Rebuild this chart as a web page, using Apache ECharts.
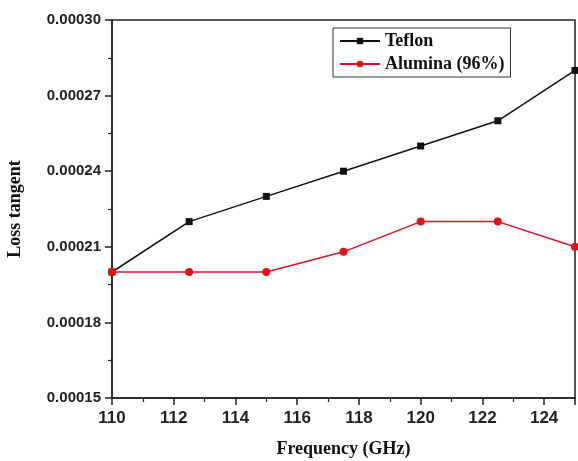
<!DOCTYPE html>
<html>
<head>
<meta charset="utf-8">
<script src="https://cdn.jsdelivr.net/npm/echarts@6/dist/echarts.min.js"></script>
<style>
    html, body { margin: 0; padding: 0; background: #fff; }
    #chart { width: 578px; height: 461px; }
</style>
</head>
<body>
<div id="chart"></div>
<script>
var frequency = [110, 112.5, 115, 117.5, 120, 122.5, 125];
var teflon = [0.00020, 0.00022, 0.00023, 0.00024, 0.00025, 0.00026, 0.00028];
var alumina = [0.00020, 0.00020, 0.00020, 0.000208, 0.00022, 0.00022, 0.00021];

function pairs(xs, ys) {
    var out = [];
    for (var i = 0; i < xs.length; i++) {
        out.push([xs[i], ys[i]]);
    }
    return out;
}

var serif = '"Liberation Serif", "DejaVu Serif", serif';
var sans = '"Liberation Sans", Arial, sans-serif';

var chart = echarts.init(document.getElementById('chart'));

var option = {
    animation: false,
    backgroundColor: '#fff',
    grid: {
        left: 112,
        right: 3,
        top: 20,
        bottom: 63,
        outerBoundsMode: 'none',
        show: true,
        borderColor: '#222',
        borderWidth: 1.5
    },
    legend: {
        left: 333,
        top: 28,
        orient: 'vertical',
        itemWidth: 40,
        itemHeight: 8,
        itemGap: 5,
        padding: [4, 6, 4, 6],
        borderColor: '#333',
        borderWidth: 1,
        textStyle: {
            fontFamily: serif,
            fontWeight: 'bold',
            fontSize: 18,
            color: '#111'
        },
        data: ['Teflon', 'Alumina (96%)']
    },
    xAxis: {
        type: 'value',
        min: 110,
        max: 125,
        interval: 2,
        name: 'Frequency (GHz)',
        nameLocation: 'middle',
        nameGap: 42,
        nameTextStyle: {
            fontFamily: serif,
            fontWeight: 'bold',
            fontSize: 18,
            color: '#111'
        },
        axisLine: { lineStyle: { color: '#222', width: 1.5 } },
        axisTick: { length: 7, lineStyle: { color: '#222', width: 1.5 } },
        minorTick: { show: true, splitNumber: 2, length: 4, lineStyle: { color: '#222', width: 1.2 } },
        splitLine: { show: false },
        axisLabel: {
            showMaxLabel: false,
            fontFamily: sans,
            fontWeight: 'bold',
            fontSize: 17,
            color: '#222',
            margin: 12
        }
    },
    yAxis: {
        type: 'value',
        min: 0.00015,
        max: 0.00030,
        interval: 0.00003,
        name: 'Loss tangent',
        nameLocation: 'middle',
        nameGap: 88,
        nameTextStyle: {
            fontFamily: serif,
            fontWeight: 'bold',
            fontSize: 18,
            color: '#111'
        },
        axisLine: { lineStyle: { color: '#222', width: 1.5 } },
        axisTick: { length: 7, lineStyle: { color: '#222', width: 1.5 } },
        minorTick: { show: true, splitNumber: 2, length: 4, lineStyle: { color: '#222', width: 1.2 } },
        splitLine: { show: false },
        axisLabel: {
            fontFamily: sans,
            fontWeight: 'bold',
            fontSize: 15,
            color: '#222',
            margin: 11,
            formatter: function (v) {
                return v.toFixed(5);
            }
        }
    },
    series: [{
        name: 'Teflon',
        type: 'line',
        data: pairs(frequency, teflon),
        symbol: 'rect',
        symbolSize: 7,
        lineStyle: { color: '#111', width: 1.5 },
        itemStyle: { color: '#111' }
    }, {
        name: 'Alumina (96%)',
        type: 'line',
        data: pairs(frequency, alumina),
        symbol: 'circle',
        symbolSize: 8,
        lineStyle: { color: '#e3101c', width: 1.5 },
        itemStyle: { color: '#e3101c' }
    }]
};

chart.setOption(option);
</script>
</body>
</html>
